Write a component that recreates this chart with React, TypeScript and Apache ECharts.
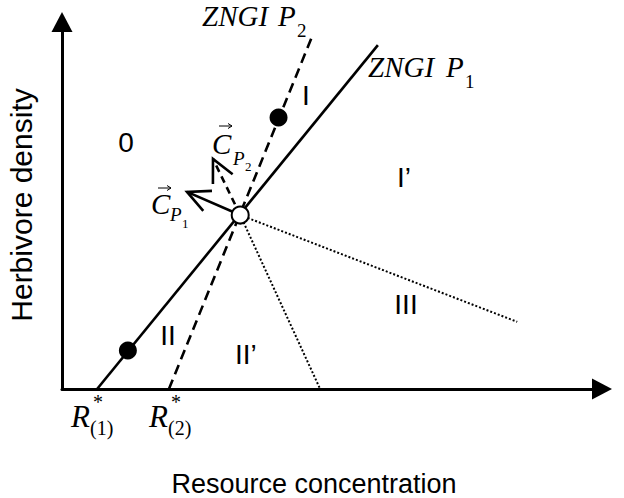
import React, { useEffect, useRef } from "react";
import * as echarts from "echarts";

// Diagram coordinates (axis units 0..100 on both axes)
const xRange = [0, 100];
const yRange = [0, 100];
const zngiP1 = [[6.5, 0], [58.5, 93.7]];
const zngiP2 = [[19.8, 0], [46.3, 96]];
const equilibrium = [[33.0, 47.4]];
const rayToAxis = [[33.0, 47.4], [47.8, 0]];
const rayToRight = [[33.0, 47.4], [84.3, 18.3]];
const filledPoints = [[12.2, 10.5], [40.1, 74.0]];
// impact vectors: [x0, y0, x1, y1, dashed]
const impactVectors = [
  [33.0, 47.4, 23.15, 53.7, 0],
  [33.0, 47.4, 27.96, 62.7, 1],
];

const SANS = '"Liberation Sans", Arial, sans-serif';
const SERIF = '"Liberation Serif", "Times New Roman", serif';

function txt(text: string, x: number, y: number, font: string, align = "left", extra: any = {}) {
  return {
    type: "text",
    x,
    y,
    ...extra,
    style: { text, font, fill: "#000", textAlign: align, textVerticalAlign: "middle" },
  };
}

function overArrow(x0: number, x1: number, y: number) {
  return [
    { type: "line", shape: { x1: x0, y1: y, x2: x1, y2: y }, style: { stroke: "#000", lineWidth: 1 } },
    {
      type: "polyline",
      shape: { points: [[x1 - 4, y - 2.5], [x1, y], [x1 - 4, y + 2.5]] },
      style: { stroke: "#000", lineWidth: 1, fill: null },
    },
  ];
}

export default function App() {
  const ref = useRef<HTMLDivElement>(null);
  useEffect(() => {
    document.body.style.margin = "0";
    const chart = echarts.init(ref.current!, null, { renderer: "svg" });
    const it = "italic 29px " + SERIF;
    const itC = "italic 29px " + SERIF;
    const reg = "28px " + SANS;
    chart.setOption({
      animation: false,
      backgroundColor: "#fff",
      grid: { left: 62, top: 22, width: 540, height: 367 },
      xAxis: {
        type: "value",
        min: xRange[0],
        max: xRange[1],
        axisLine: {
          show: true,
          lineStyle: { color: "#000", width: 3 },
          symbol: ["none", "triangle"],
          symbolSize: [21, 20],
        },
        axisTick: { show: false },
        axisLabel: { show: false },
        splitLine: { show: false },
      },
      yAxis: {
        type: "value",
        min: yRange[0],
        max: yRange[1],
        axisLine: {
          show: true,
          lineStyle: { color: "#000", width: 3 },
          symbol: ["none", "triangle"],
          symbolSize: [21, 20],
        },
        axisTick: { show: false },
        axisLabel: { show: false },
        splitLine: { show: false },
      },
      series: [
        {
          type: "line",
          data: zngiP1,
          showSymbol: false,
          lineStyle: { color: "#000", width: 2.6 },
          z: 2,
        },
        {
          type: "line",
          data: zngiP2,
          showSymbol: false,
          lineStyle: { color: "#000", width: 2.6, type: [10, 6] },
          z: 2,
        },
        {
          type: "line",
          data: rayToAxis,
          showSymbol: false,
          lineStyle: { color: "#000", width: 2, type: [2, 2] },
          z: 2,
        },
        {
          type: "line",
          data: rayToRight,
          showSymbol: false,
          lineStyle: { color: "#000", width: 2, type: [2, 2] },
          z: 2,
        },
        {
          type: "custom",
          data: impactVectors,
          encode: { x: [0, 2], y: [1, 3] },
          z: 3,
          renderItem: (params: any, api: any) => {
            const p0 = api.coord([api.value(0), api.value(1)]);
            const p1 = api.coord([api.value(2), api.value(3)]);
            const dashed = api.value(4) === 1;
            const ang = Math.atan2(p0[1] - p1[1], p0[0] - p1[0]);
            const L = 25;
            const a = (26 * Math.PI) / 180;
            const h1 = [p1[0] + L * Math.cos(ang + a), p1[1] + L * Math.sin(ang + a)];
            const h2 = [p1[0] + L * Math.cos(ang - a), p1[1] + L * Math.sin(ang - a)];
            return {
              type: "group",
              children: [
                {
                  type: "line",
                  shape: { x1: p0[0], y1: p0[1], x2: p1[0], y2: p1[1] },
                  style: { stroke: "#000", lineWidth: 2.6, lineDash: dashed ? [7, 5] : null },
                },
                {
                  type: "polyline",
                  shape: { points: [h1, p1, h2] },
                  style: { stroke: "#000", lineWidth: 2.6, fill: null },
                },
              ],
            };
          },
        },
        {
          type: "scatter",
          data: filledPoints,
          symbol: "circle",
          symbolSize: 18,
          itemStyle: { color: "#000", opacity: 1 },
          z: 5,
        },
        {
          type: "scatter",
          data: equilibrium,
          symbol: "circle",
          symbolSize: 17,
          itemStyle: { color: "#fff", borderColor: "#000", borderWidth: 2, opacity: 1 },
          z: 6,
        },
      ],
      graphic: [
        // axis titles
        txt("Herbivore density", 21, 205, "30px " + SANS, "center", { rotation: Math.PI / 2 }),
        txt("Resource concentration", 314, 484, "27px " + SANS, "center"),
        // ZNGI labels
        txt("ZNGI", 202, 16, it),
        txt("P", 278, 16, it),
        txt("2", 297, 30, "19px " + SERIF),
        txt("ZNGI", 368, 67, it),
        txt("P", 446, 67, it),
        txt("1", 465, 81, "19px " + SERIF),
        // region labels
        txt("I", 306, 95, reg, "center"),
        txt("0", 126, 142, reg, "center"),
        txt("I\u2019", 397, 177, reg, "left"),
        txt("III", 406, 304, reg, "center"),
        txt("II", 168, 335, reg, "center"),
        txt("II\u2019", 235, 354, reg, "left"),
        // impact vector labels
        txt("C", 212, 144, itC),
        txt("P", 233, 158, "italic 19px " + SERIF),
        txt("2", 245, 166, "13px " + SERIF),
        ...overArrow(219, 232, 126),
        txt("C", 151, 204, itC),
        txt("P", 170, 214, "italic 19px " + SERIF),
        txt("1", 182, 223, "13px " + SERIF),
        ...overArrow(158, 171, 188),
        // R* labels
        txt("R", 71, 416, "italic 31px " + SERIF),
        txt("*", 93, 402, "20px " + SERIF),
        txt("(1)", 90, 428, "20px " + SERIF),
        txt("R", 149, 416, "italic 31px " + SERIF),
        txt("*", 171, 402, "20px " + SERIF),
        txt("(2)", 168, 428, "20px " + SERIF),
      ],
    });
    return () => chart.dispose();
  }, []);
  return <div ref={ref} style={{ width: 624, height: 498 }} />;
}
